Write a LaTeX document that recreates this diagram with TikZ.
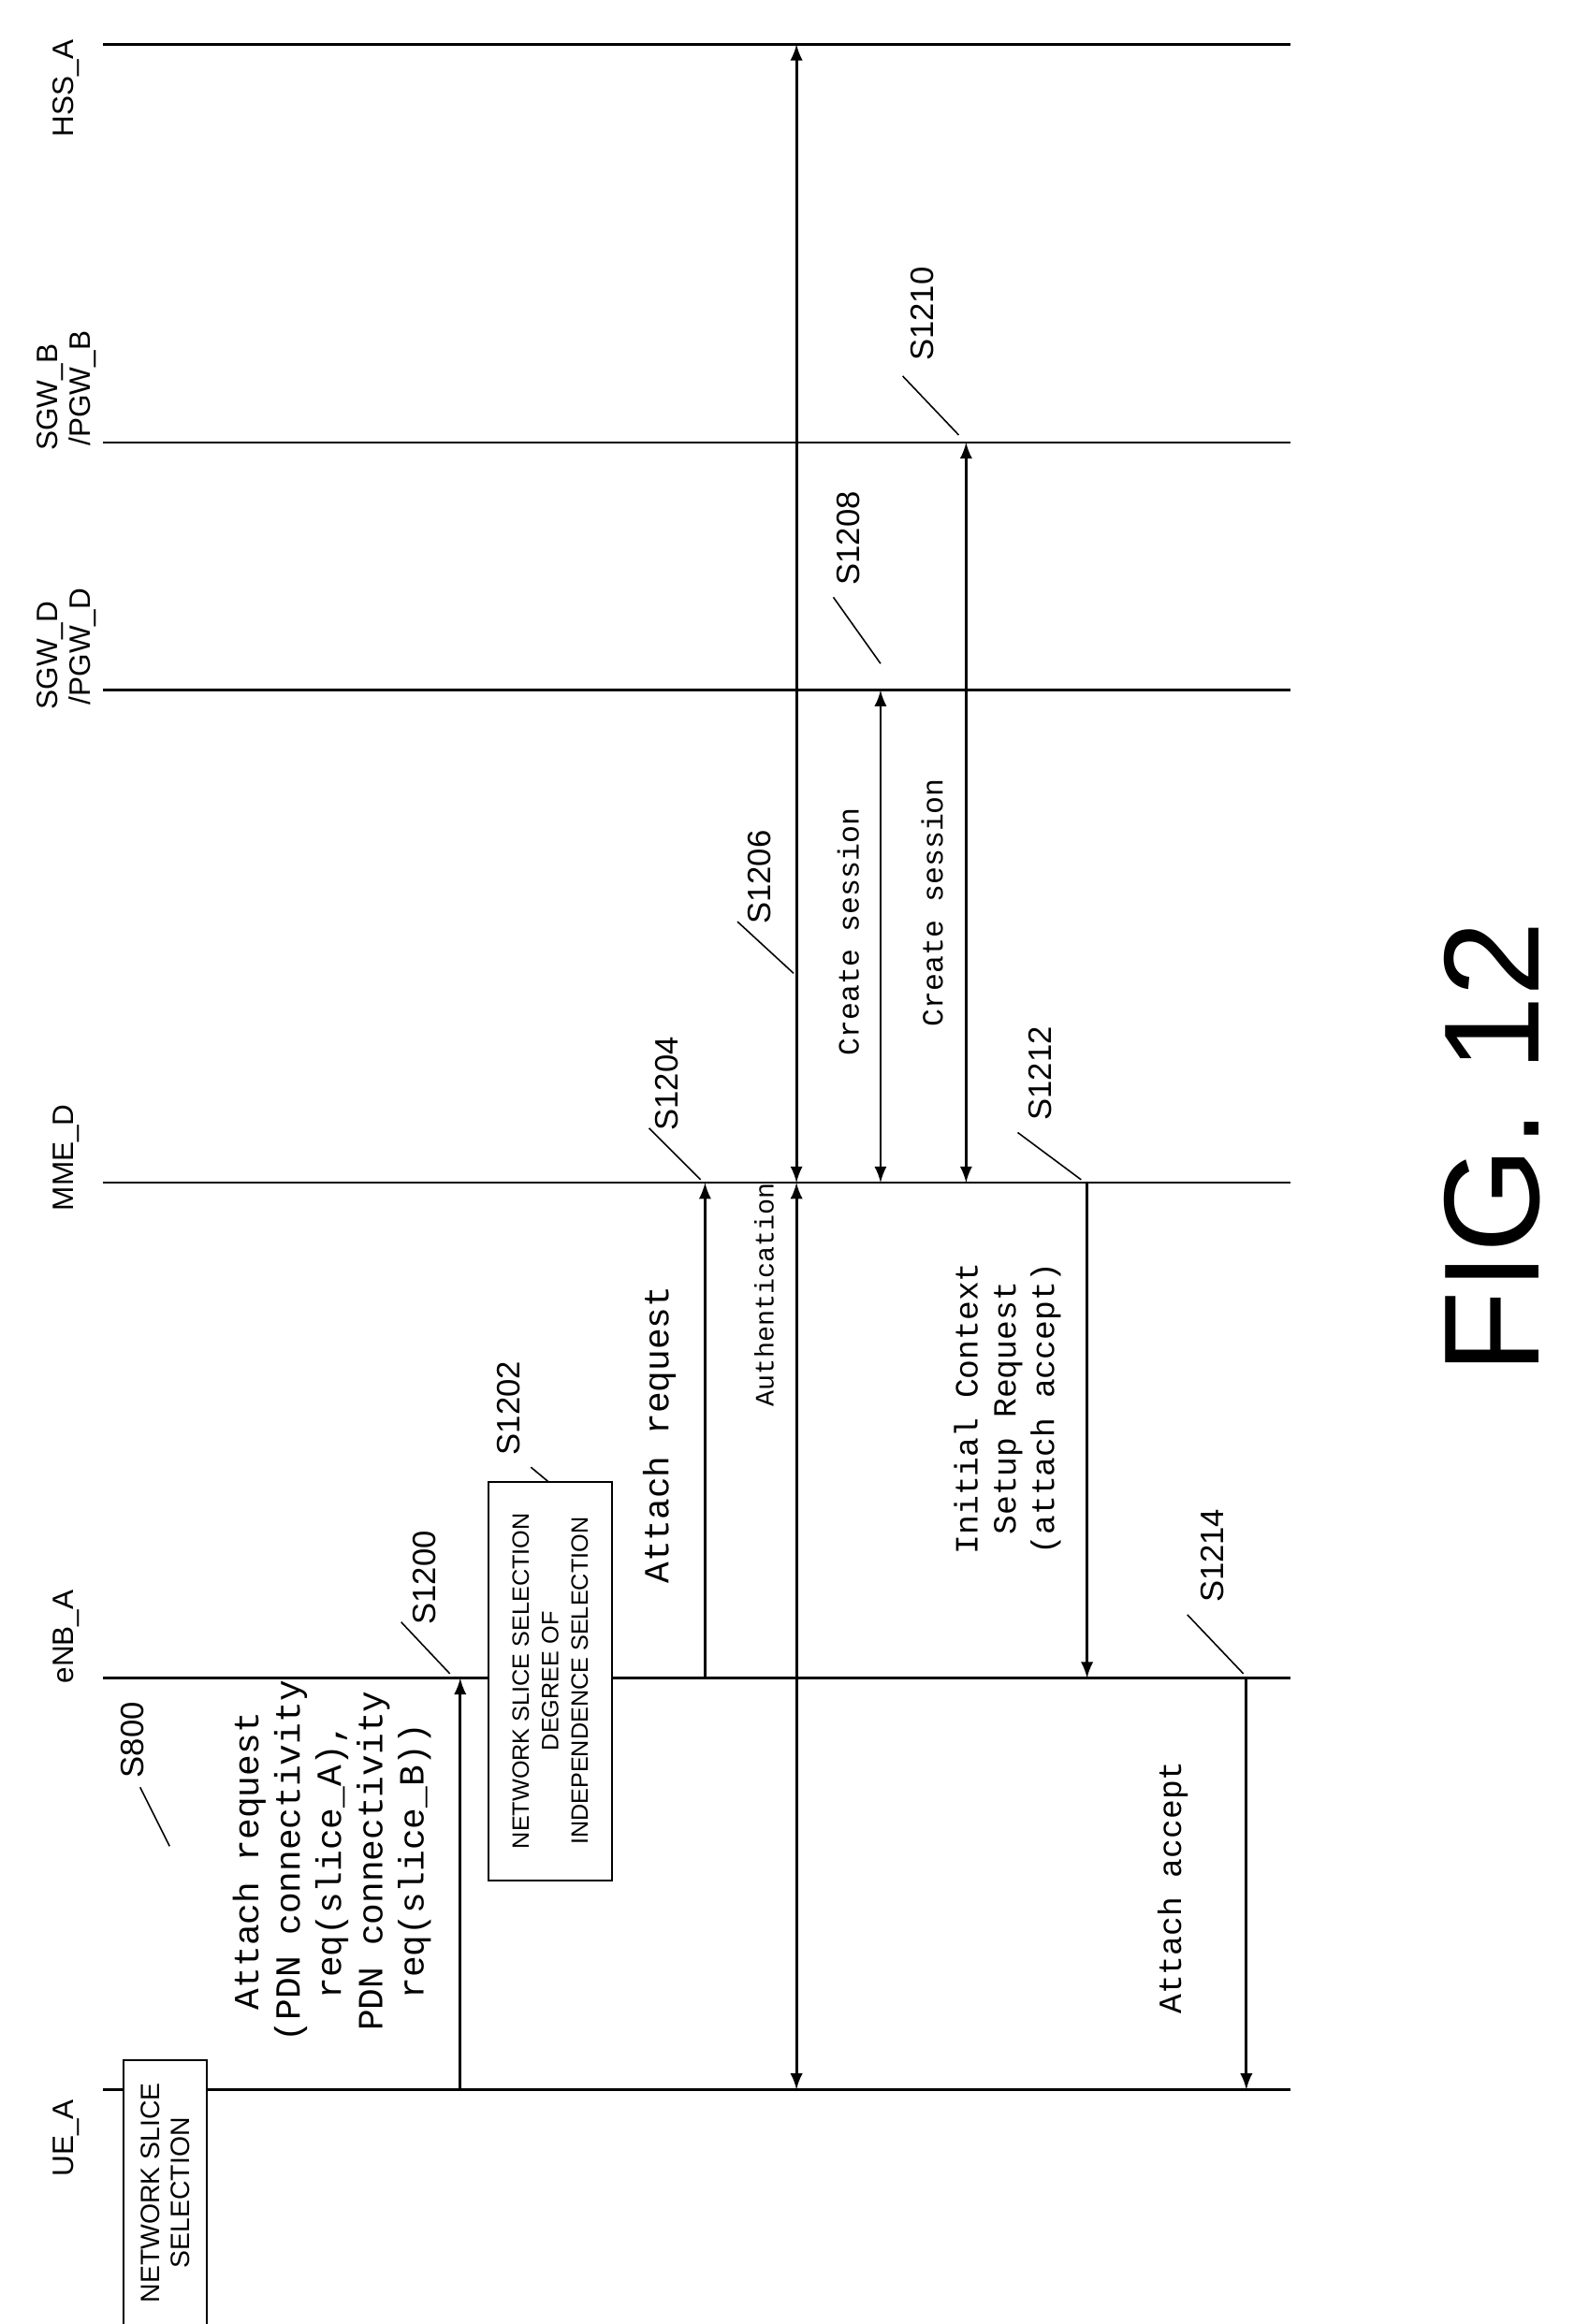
\documentclass[tikz,border=0pt]{standalone}
\usepackage{fontspec}
\setmainfont{Liberation Sans}
\setmonofont{Liberation Mono}
\begin{document}
\begin{tikzpicture}[x=0.5pt,y=-0.5pt,
  life/.style={line width=0.8pt},
  msg/.style={line width=0.9pt,-latex},
  dmsg/.style={line width=0.9pt,latex-latex},
  lab/.style={rotate=90,font=\ttfamily\fontsize{12}{14}\selectfont,align=center,inner sep=1pt},
  stp/.style={rotate=90,font=\fontsize{11}{12}\selectfont,inner sep=1pt},
  ent/.style={rotate=90,font=\fontsize{10}{11}\selectfont,inner sep=1pt,align=left},
  tick/.style={line width=0.5pt},
  box/.style={draw,fill=white,rotate=90,font=\fontsize{9}{10}\selectfont,align=center,line width=0.6pt}]
\useasboundingbox (0,0) rectangle (1077,1576);
% lifelines
\foreach \n/\y in {hss/30,sgwb/300,sgwd/468,mme/802,enb/1138,ue/1417}{
  \coordinate (\n L) at (70,\y); \coordinate (\n R) at (875,\y);
  \draw[life] (\n L) -- (\n R);}
\node[ent] (thss) at (45,60) {HSS\_A};
\node[ent] (tsgwb) at (45,265) {SGW\_B\\ \,/PGW\_B};
\node[ent] (tsgwd) at (45,440) {SGW\_D\\ \,/PGW\_D};
\node[ent] (tmme) at (45,785) {MME\_D};
\node[ent] (tenb) at (45,1110) {eNB\_A};
\node[ent] (tue) at (45,1450) {UE\_A};
% S800 box
\node[box,minimum width=90pt,minimum height=28pt] (b800) at (112,1487) {NETWORK SLICE\\SELECTION};
\node[stp] (s800) at (90,1180) {S800};
\draw[tick] (95,1212) -- (115,1252);
% S1200
\coordinate (a1) at (312,1417); \coordinate (a2) at (312,1138);
\draw[msg] (a1) -- (a2);
\node[lab] (l1200) at (225,1262) {Attach request\\(PDN connectivity\\req(slice\_A),\\PDN connectivity\\req(slice\_B))};
\node[stp] (s1200) at (288,1070) {S1200};
\draw[tick] (272,1100) -- (305,1135);
% S1202
\node[box,font=\fontsize{8}{10}\selectfont,minimum width=135pt,minimum height=42pt] (b1202) at (373,1140) {NETWORK SLICE SELECTION\\DEGREE OF\\INDEPENDENCE SELECTION};
\node[stp] (s1202) at (345,955) {S1202};
\draw[tick] (360,995) -- (372,1005);
% S1204
\coordinate (b1) at (478,1138); \coordinate (b2) at (478,802);
\draw[msg] (b1) -- (b2);
\node[lab] (l1204) at (447,973) {Attach request};
\node[stp] (s1204) at (452,735) {S1204};
\draw[tick] (440,765) -- (475,800);
% Authentication S1206
\coordinate (c1) at (540,1417); \coordinate (c2) at (540,802); \coordinate (c3) at (540,30);
\draw[dmsg] (c1) -- (c2);
\draw[dmsg] (c2) -- (c3);
\node[lab,font=\ttfamily\fontsize{9}{10}\selectfont] (lauth) at (518,878) {Authentication};
\node[stp] (s1206) at (515,595) {S1206};
\draw[tick] (500,625) -- (538,660);
% Create session D
\coordinate (d1) at (597,802); \coordinate (d2) at (597,468);
\draw[dmsg] (d1) -- (d2);
\node[lab,font=\ttfamily\fontsize{10}{11}\selectfont] (lcsd) at (575,632) {Create session};
\node[stp] (s1208) at (575,365) {S1208};
\draw[tick] (565,405) -- (597,450);
% Create session B
\coordinate (e1) at (655,802); \coordinate (e2) at (655,300);
\draw[dmsg] (e1) -- (e2);
\node[lab,font=\ttfamily\fontsize{10}{11}\selectfont] (lcsb) at (632,612) {Create session};
\node[stp] (s1210) at (625,213) {S1210};
\draw[tick] (612,255) -- (650,295);
% S1212
\coordinate (f1) at (737,802); \coordinate (f2) at (737,1138);
\draw[msg] (f1) -- (f2);
\node[lab,font=\ttfamily\fontsize{11}{13}\selectfont] (l1212) at (683,955) {Initial Context\\Setup Request\\(attach accept)};
\node[stp] (s1212) at (705,728) {S1212};
\draw[tick] (690,768) -- (733,800);
% S1214
\coordinate (g1) at (845,1138); \coordinate (g2) at (845,1417);
\draw[msg] (g1) -- (g2);
\node[lab,font=\ttfamily\fontsize{11}{13}\selectfont] (l1214) at (795,1280) {Attach accept};
\node[stp] (s1214) at (822,1055) {S1214};
\draw[tick] (805,1095) -- (843,1135);
% title
\node[rotate=90,font=\fontsize{46}{50}\selectfont] (fig) at (1012,778) {FIG. 12};
\end{tikzpicture}
\end{document}
